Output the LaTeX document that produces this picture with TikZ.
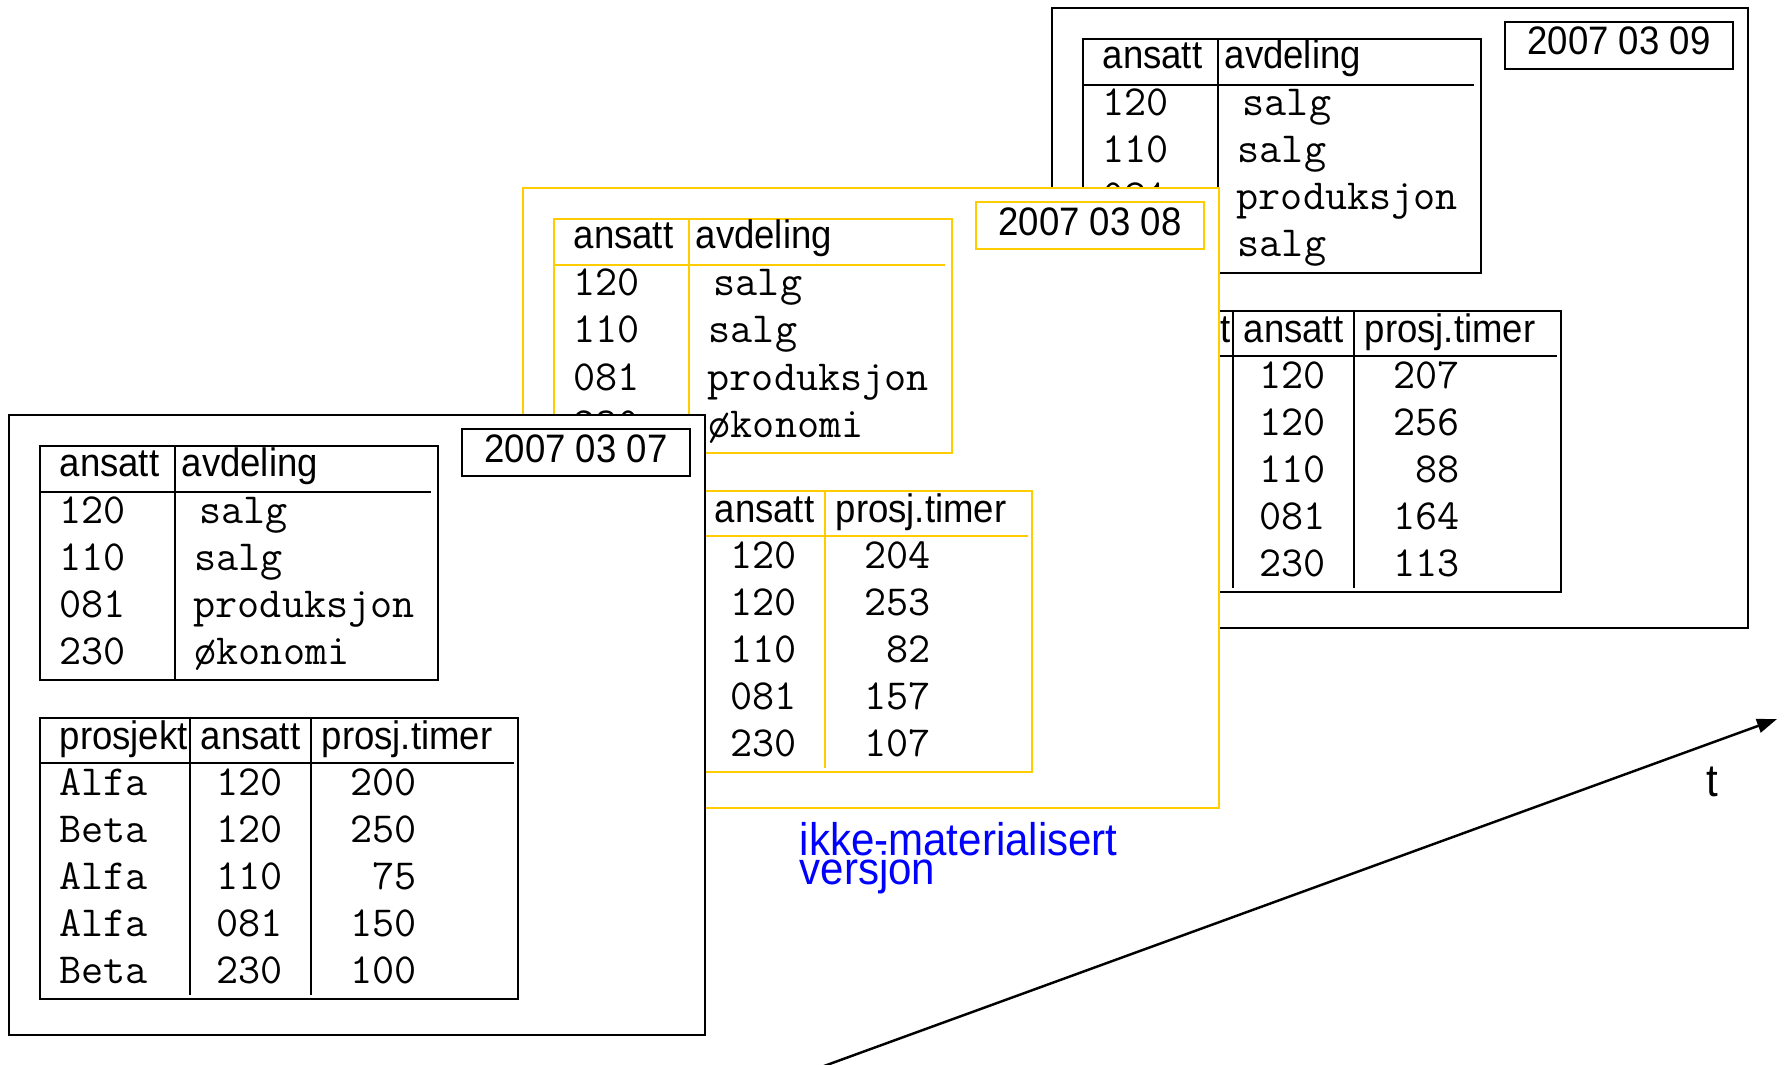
\documentclass[tikz,border=0pt]{standalone}
\usepackage{fontspec}
\setmainfont{Liberation Sans}[FakeStretch=0.92]
\usetikzlibrary{arrows.meta}
\definecolor{gul}{RGB}{255,204,0}
\definecolor{blaa}{RGB}{0,0,255}
\newcommand{\tettlinje}{\lineskiplimit=-20pt\relax}
\tikzset{
	versjon/.style={draw=#1, fill=white, line width=0.7pt},
	linje/.style={draw=#1, line width=0.7pt},
	datoboks/.style={draw=#1, line width=0.7pt, minimum width=2.28cm, minimum height=0.47cm, inner sep=0pt, text height=2.8mm, text depth=0.9mm, font=\fontsize{11.3}{12}\selectfont},
	hode/.style={anchor=base west, inner sep=0pt, font=\fontsize{11.3}{12}\selectfont},
	celle/.style={anchor=base west, inner sep=0pt, font=\ttfamily\fontsize{12.2}{12}\selectfont},
	tidsakse/.style={line width=0.7pt, -{Triangle[length=2mm, width=1.4mm]}},
}
\begin{document}
\begin{tikzpicture}[x=0.01cm, y=-0.01cm]
	\useasboundingbox (0,0) rectangle (1789,1064);
	
	\foreach \v/\sx/\sy/\farge/\dato/\sist/\timer in {
		3/1052/8/black/2007 03 09/salg/{207,256,88,164,113},
		2/523/188/gul/2007 03 08/økonomi/{204,253,82,157,107},
		1/9/415/black/2007 03 07/økonomi/{200,250,75,150,100}}
	{
		\begin{scope}[shift={(\sx,\sy)}]
			\draw[versjon=\farge] (0,0) rectangle (696,620);
			\node[datoboks=\farge] (dato\v) at (567,37.5) {\dato};
			
			\draw[linje=\farge] (31,31) rectangle (429,265);
			\draw[linje=\farge] (31,77) -- (422,77);
			\draw[linje=\farge] (166,31) -- (166,265);
			\node[hode] (hans\v) at (50,61) {ansatt};
			\node[hode] (havd\v) at (172,61) {avdeling};
			\foreach \nr/\avd/\ax [count=\r] in {120/salg/190, 110/salg/185, 081/produksjon/184, 230/\sist/185}
			{
				\node[celle] (nr\v-\r) at (50, {108+47*(\r-1)}) {\nr};
				\node[celle] (avd\v-\r) at (\ax, {108+47*(\r-1)}) {\avd};
			}
			
			\draw[linje=\farge] (31,303) rectangle (509,584);
			\draw[linje=\farge] (31,348) -- (505,348);
			\draw[linje=\farge] (181,303) -- (181,580);
			\draw[linje=\farge] (302,303) -- (302,580);
			\node[hode] (hpro\v) at (50,334) {prosjekt};
			\node[hode] (hansb\v) at (191,334) {ansatt};
			\node[hode] (htim\v) at (312,334) {prosj.timer};
			\foreach \pro/\an [count=\r] in {Alfa/120, Beta/120, Alfa/110, Alfa/081, Beta/230}
			{
				\node[celle] (pro\v-\r) at (50, {380+47*(\r-1)}) {\pro};
				\node[celle] (an\v-\r) at (207, {380+47*(\r-1)}) {\an};
			}
			\foreach \tim [count=\r] in \timer
				\node[celle, anchor=base east] (tim\v-\r) at (408, {380+47*(\r-1)}) {\tim};
		\end{scope}
	}
	
	\node[anchor=north west, inner sep=0pt, align=left, text=blaa, font=\fontsize{13}{8.2}\selectfont\tettlinje] (merknad) at (799,822) {ikke-materialisert\\versjon};
	
	\coordinate (tstart) at (824,1066);
	\coordinate (tslutt) at (1777,719);
	\draw[tidsakse] (tstart) -- (tslutt);
	\node[inner sep=0pt, font=\fontsize{13}{13}\selectfont] (tlabel) at (1712,782) {t};
	
\end{tikzpicture}
\end{document}
